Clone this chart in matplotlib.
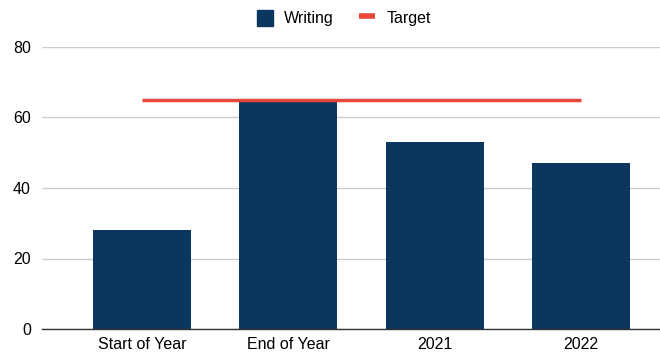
"""Writing scores vs target bar chart."""

import matplotlib

matplotlib.use("agg")
import matplotlib.pyplot as plt
from matplotlib.lines import Line2D
from matplotlib.patches import Patch

categories = ["Start of Year", "End of Year", "2021", "2022"]
writing = [28, 65, 53, 47]
target = [65, 65, 65, 65]
y_ticks = [0, 20, 40, 60, 80]

BAR_COLOR = "#0b3660"
TARGET_COLOR = "#e8473b"

plt.rcParams["font.family"] = ["Liberation Sans", "DejaVu Sans"]

fig = plt.figure(figsize=(6.6, 3.53), dpi=100)
ax = fig.add_axes([42 / 660, 24 / 353, 618 / 660, 282 / 353])

x = list(range(len(categories)))
ax.bar(x, writing, width=0.67, color=BAR_COLOR, zorder=2)
ax.plot(x, target, color=TARGET_COLOR, linewidth=2.5, solid_capstyle="butt", zorder=3)

ax.set_xlim(-0.683, 3.54)
ax.set_ylim(0, 80)
ax.set_yticks(y_ticks)
ax.set_xticks(x)
ax.set_xticklabels(categories)

ax.grid(axis="y", color="#cccccc", linewidth=1, zorder=0)
for side in ["top", "right", "left"]:
    ax.spines[side].set_visible(False)
ax.spines["bottom"].set_color("#333333")
ax.spines["bottom"].set_linewidth(1)
ax.spines["bottom"].set_zorder(4)
ax.tick_params(axis="both", length=0, labelsize=11.5, colors="#000000")
ax.tick_params(axis="y", pad=8)
ax.tick_params(axis="x", pad=6)

handles = [
    Patch(facecolor=BAR_COLOR, edgecolor=BAR_COLOR),
    Line2D([0], [0], color=TARGET_COLOR, linewidth=4, solid_capstyle="butt"),
]
fig.legend(
    handles,
    ["Writing", "Target"],
    loc="center",
    bbox_to_anchor=(344 / 660, 1 - 18 / 353),
    ncol=2,
    frameon=False,
    fontsize=11.5,
    handlelength=1.0,
    handleheight=1.2,
    handletextpad=0.7,
    columnspacing=1.6,
)

fig.savefig("out.png", dpi=100)
